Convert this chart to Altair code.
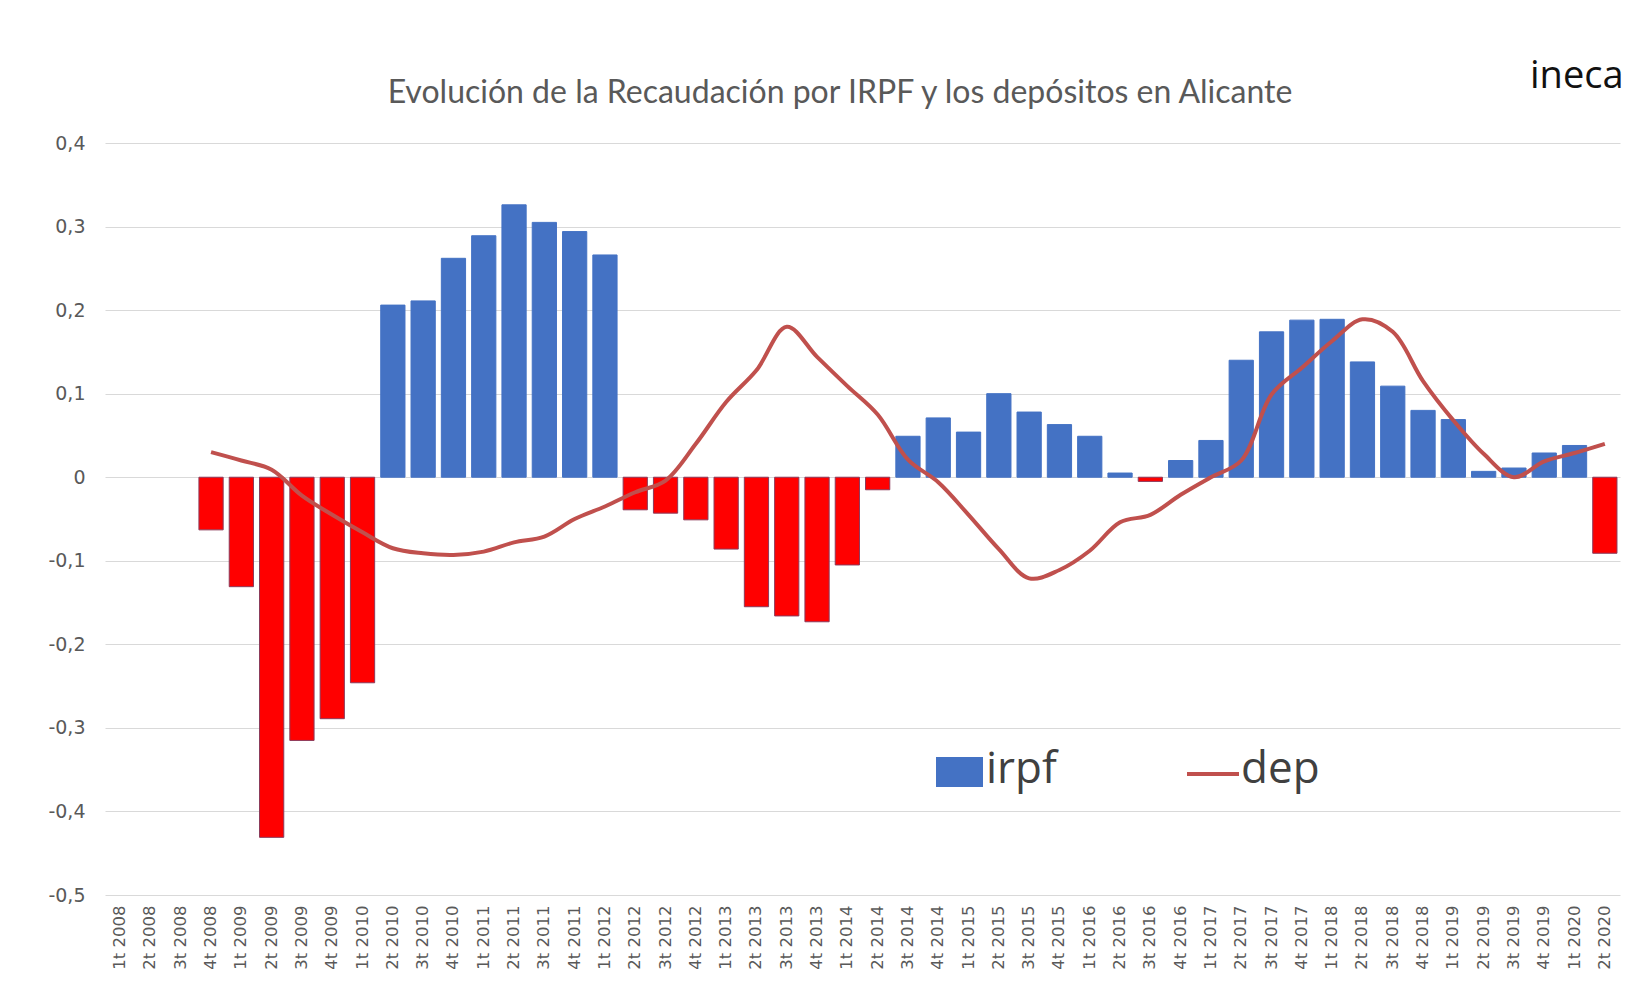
import altair as alt
import pandas as pd

quarters = [f"{q}t {y}" for y in range(2008, 2021) for q in range(1, 5)][:50]

irpf = [None, None, None, -0.063, -0.131, -0.431, -0.315, -0.289, -0.246,
        0.206, 0.211, 0.262, 0.289, 0.326, 0.305, 0.294, 0.266,
        -0.039, -0.043, -0.051, -0.086, -0.155, -0.166, -0.173, -0.105, -0.015,
        0.049, 0.071, 0.054, 0.100, 0.078, 0.063, 0.049, 0.005, -0.005, 0.020,
        0.044, 0.140, 0.174, 0.188, 0.189, 0.138, 0.109, 0.080, 0.069,
        0.007, 0.011, 0.029, 0.038, -0.091]

dep = [None, None, None, 0.030, 0.020, 0.009, -0.022, -0.045, -0.066,
       -0.085, -0.091, -0.093, -0.089, -0.078, -0.071, -0.050, -0.035,
       -0.018, -0.004, 0.040, 0.090, 0.128, 0.180, 0.144, 0.109, 0.075,
       0.021, -0.006, -0.045, -0.086, -0.121, -0.111, -0.088, -0.054, -0.045,
       -0.021, 0.000, 0.020, 0.099, 0.131, 0.163, 0.189, 0.174, 0.115, 0.068,
       0.028, 0.000, 0.019, 0.029, 0.040]

title_text = "Evolución de la Recaudación por IRPF y los depósitos en Alicante"
y_ticks = [0.4, 0.3, 0.2, 0.1, 0.0, -0.1, -0.2, -0.3, -0.4, -0.5]

df = pd.DataFrame({"q": quarters, "irpf": irpf, "dep": dep})

W, H = 1515, 752
GRAY = "#595959"

x_enc = alt.X("q:N", sort=quarters, scale=alt.Scale(domain=quarters, paddingInner=0.2, paddingOuter=0.1),
              axis=alt.Axis(title=None, labelAngle=-90, labelFontSize=16.5, labelColor=GRAY,
                            labelFont="DejaVu Sans", ticks=False, domain=False,
                            labelPadding=10, grid=False))
y_scale = alt.Scale(domain=[-0.5, 0.4], nice=False, zero=False)

bars = alt.Chart(df).mark_bar(strokeWidth=1).encode(
    x=x_enc,
    y=alt.Y("irpf:Q", scale=y_scale,
            axis=alt.Axis(title=None, values=y_ticks, grid=True, gridColor="#d9d9d9",
                          gridWidth=1, ticks=False, domain=False, labelFontSize=19,
                          labelColor=GRAY, labelFont="DejaVu Sans", labelPadding=20,
                          labelExpr="datum.value == 0 ? '0' : replace(replace(format(datum.value, '.1f'), '.', ','), '\u2212', '-')")),
    color=alt.condition(alt.datum.irpf < 0, alt.value("#FF0000"), alt.value("#4472C4")),
    stroke=alt.condition(alt.datum.irpf < 0, alt.value("#8B3A5A"), alt.value("#4472C4")),
)

line = alt.Chart(df).mark_line(color="#C0504D", strokeWidth=4, interpolate="catmull-rom").encode(
    x=alt.X("q:N", sort=quarters),
    y=alt.Y("dep:Q", scale=y_scale),
)

one = pd.DataFrame({"t": [title_text]})
title = alt.Chart(one).mark_text(fontSize=32, font="Lato", color=GRAY, align="center",
                                 baseline="middle").encode(
    x=alt.value(735), y=alt.value(-50), text="t:N")

logo = alt.Chart(pd.DataFrame({"t": ["ineca"]})).mark_text(
    fontSize=38, font="Open Sans", color="#111111", align="left",
    baseline="middle").encode(x=alt.value(1425), y=alt.value(-66), text="t:N")

leg_rect = alt.Chart(pd.DataFrame({"a": [1]})).mark_rect(color="#4472C4").encode(
    x=alt.value(831), x2=alt.value(878), y=alt.value(614), y2=alt.value(644))
leg_rule = alt.Chart(pd.DataFrame({"a": [1]})).mark_rule(color="#C0504D", strokeWidth=4).encode(
    x=alt.value(1082), x2=alt.value(1134), y=alt.value(631))
leg_text = alt.Chart(pd.DataFrame({"t": ["irpf", "dep"], "px": [881, 1136]})).mark_text(
    fontSize=44, font="Open Sans", color="#404040", align="left", baseline="middle").encode(
    x=alt.X("px:Q", scale=None), y=alt.value(627), text="t:N")

chart = alt.layer(bars, line, title, logo, leg_rect, leg_rule, leg_text).properties(
    width=W, height=H,
    autosize=alt.AutoSizeParams(type="none"),
    padding={"left": 97, "top": 135, "right": 10, "bottom": 80},
    background="white",
).configure_view(stroke=None)

chart.save("out.html", embed_options={"renderer": "svg", "actions": False})
